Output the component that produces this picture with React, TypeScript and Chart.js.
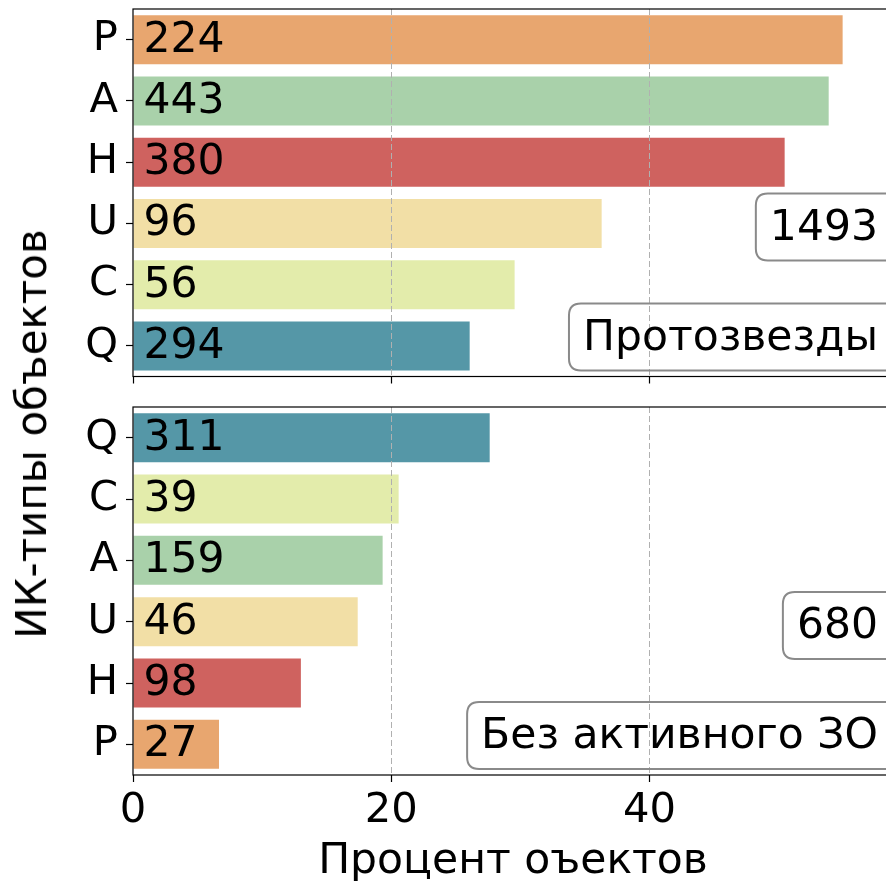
import React, { useEffect, useRef } from 'react';
import { Chart, registerables } from 'chart.js';

Chart.register(...registerables);

// ---- data ----
const topCategories = ['P', 'A', 'H', 'U', 'C', 'Q'];
const topPercents = [54.95, 53.87, 50.46, 36.29, 29.55, 26.07];
const topCounts = [224, 443, 380, 96, 56, 294];

const bottomCategories = ['Q', 'C', 'A', 'U', 'H', 'P'];
const bottomPercents = [27.62, 20.57, 19.33, 17.4, 13.0, 6.66];
const bottomCounts = [311, 39, 159, 46, 98, 27];

const xTickValues = [0, 20, 40];
const xMax = 58.85;

const topTotal = '1493';
const topTitle = 'Протозвезды';
const bottomTotal = '680';
const bottomTitle = 'Без активного ЗО';
const xAxisTitle = 'Процент оъектов';
const yAxisTitle = 'ИК-типы объектов';

const typeColors: Record<string, string> = {
  P: '#E8A66F',
  A: '#A9D1AA',
  H: '#CF625F',
  U: '#F2DFA6',
  C: '#E3ECAB',
  Q: '#5597A7',
};

const FONT = 'DejaVu Sans';
Chart.defaults.font.family = FONT;

function roundedRect(ctx: CanvasRenderingContext2D, x: number, y: number, w: number, h: number, r: number) {
  ctx.beginPath();
  ctx.moveTo(x + r, y);
  ctx.lineTo(x + w - r, y);
  ctx.quadraticCurveTo(x + w, y, x + w, y + r);
  ctx.lineTo(x + w, y + h - r);
  ctx.quadraticCurveTo(x + w, y + h, x + w - r, y + h);
  ctx.lineTo(x + r, y + h);
  ctx.quadraticCurveTo(x, y + h, x, y + h - r);
  ctx.lineTo(x, y + r);
  ctx.quadraticCurveTo(x, y, x + r, y);
  ctx.closePath();
}

function zeroPad(scale: any) {
  scale.paddingTop = 0;
  scale.paddingBottom = 0;
  scale.paddingLeft = 0;
  scale.paddingRight = 0;
}

function makeChart(
  canvas: HTMLCanvasElement,
  labels: string[],
  values: number[],
  counts: number[],
  total: string,
  title: string,
  isBottom: boolean,
  padTop: number,
  xAxisHeight: number
) {
  const decor = {
    id: 'decor',
    afterDraw(chart: any) {
      const ctx: CanvasRenderingContext2D = chart.ctx;
      const a = chart.chartArea;
      ctx.save();
      // frame
      ctx.strokeStyle = '#000';
      ctx.lineWidth = 1.2;
      ctx.strokeRect(a.left, a.top, a.right - a.left, a.bottom - a.top);
      // bar count labels
      ctx.fillStyle = '#000';
      ctx.font = `42.5px "${FONT}"`;
      ctx.textAlign = 'left';
      ctx.textBaseline = 'alphabetic';
      const meta = chart.getDatasetMeta(0);
      meta.data.forEach((bar: any, i: number) => {
        const p = bar.getProps(['x', 'y', 'base'], true);
        ctx.fillText(String(counts[i]), p.base + 10, p.y + 12);
      });
      // annotation boxes
      const drawBox = (text: string, baseline: number) => {
        ctx.font = `42.5px "${FONT}"`;
        const w = ctx.measureText(text).width;
        const rightX = a.right - 15;
        const leftX = rightX - w;
        ctx.strokeStyle = '#8a8a8a';
        ctx.lineWidth = 2;
        roundedRect(ctx, leftX - 14, baseline - 46, w + 60, 67, 12);
        ctx.stroke();
        ctx.fillStyle = '#000';
        ctx.textAlign = 'left';
        ctx.fillText(text, leftX, baseline);
      };
      drawBox(total, a.bottom - 137);
      drawBox(title, a.bottom - 27);
      ctx.restore();
    },
  };

  return new Chart(canvas, {
    type: 'bar',
    data: {
      labels,
      datasets: [
        {
          data: values,
          backgroundColor: labels.map((l) => typeColors[l]),
          borderWidth: 0,
          barPercentage: 0.8,
          categoryPercentage: 1.0,
        },
      ],
    },
    options: {
      indexAxis: 'y',
      responsive: false,
      animation: false,
      devicePixelRatio: 1,
      layout: { padding: { top: padTop, right: 7, left: 0, bottom: 0 } },
      plugins: { legend: { display: false }, tooltip: { enabled: false } },
      scales: {
        x: {
          type: 'linear',
          min: 0,
          max: xMax,
          afterBuildTicks: (scale: any) => {
            scale.ticks = xTickValues.map((v) => ({ value: v }));
          },
          afterFit: (scale: any) => {
            scale.height = xAxisHeight;
            zeroPad(scale);
          },
          grid: {
            display: true,
            drawOnChartArea: true,
            drawTicks: true,
            z: 1,
            color: (c: any) => (c.tick && c.tick.value === 0 ? 'rgba(0,0,0,0)' : '#b0b0b0'),
            lineWidth: 1,
            tickColor: '#000',
            tickLength: 7,
            tickWidth: 1.2,
            tickBorderDash: [],
          },
          border: { display: false, dash: [6, 3] },
          ticks: {
            display: isBottom,
            color: '#000',
            font: { size: 41.7, family: FONT },
            padding: 4.4,
            maxRotation: 0,
            callback: (v: any) => String(v),
          },
          title: {
            display: isBottom,
            text: xAxisTitle,
            color: '#000',
            font: { size: 42.5, family: FONT },
            padding: { top: 0, bottom: 5 },
          },
        },
        y: {
          type: 'category',
          offset: true,
          afterFit: (scale: any) => {
            scale.width = 133;
            zeroPad(scale);
          },
          grid: {
            display: true,
            offset: false,
            drawOnChartArea: false,
            drawTicks: true,
            tickLength: 7,
            tickColor: '#000',
            tickWidth: 1.2,
          },
          border: { display: false },
          ticks: {
            color: '#000',
            font: { size: 41.7, family: FONT },
            padding: 8,
          },
        },
      },
    },
    plugins: [decor],
  } as any);
}

export default function App() {
  const topRef = useRef<HTMLCanvasElement>(null);
  const botRef = useRef<HTMLCanvasElement>(null);

  useEffect(() => {
    const c1 = makeChart(topRef.current!, topCategories, topPercents, topCounts, topTotal, topTitle, false, 9, 7.5);
    const c2 = makeChart(botRef.current!, bottomCategories, bottomPercents, bottomCounts, bottomTotal, bottomTitle, true, 17, 117);
    return () => {
      c1.destroy();
      c2.destroy();
    };
  }, []);

  return (
    <div
      style={{
        position: 'absolute',
        left: 0,
        top: 0,
        width: 886,
        height: 881,
        overflow: 'hidden',
        background: '#fff',
      }}
    >
      <canvas ref={topRef} width={900} height={384} style={{ position: 'absolute', left: 0, top: 0, width: 900, height: 384 }} />
      <canvas ref={botRef} width={900} height={502} style={{ position: 'absolute', left: 0, top: 390, width: 900, height: 502 }} />
      <div
        style={{
          position: 'absolute',
          left: 32,
          top: 434,
          transform: 'translate(-50%, -50%) rotate(-90deg)',
          whiteSpace: 'nowrap',
          fontFamily: FONT,
          fontSize: 42,
          lineHeight: 1,
          color: '#000',
        }}
      >
        {yAxisTitle}
      </div>
    </div>
  );
}
